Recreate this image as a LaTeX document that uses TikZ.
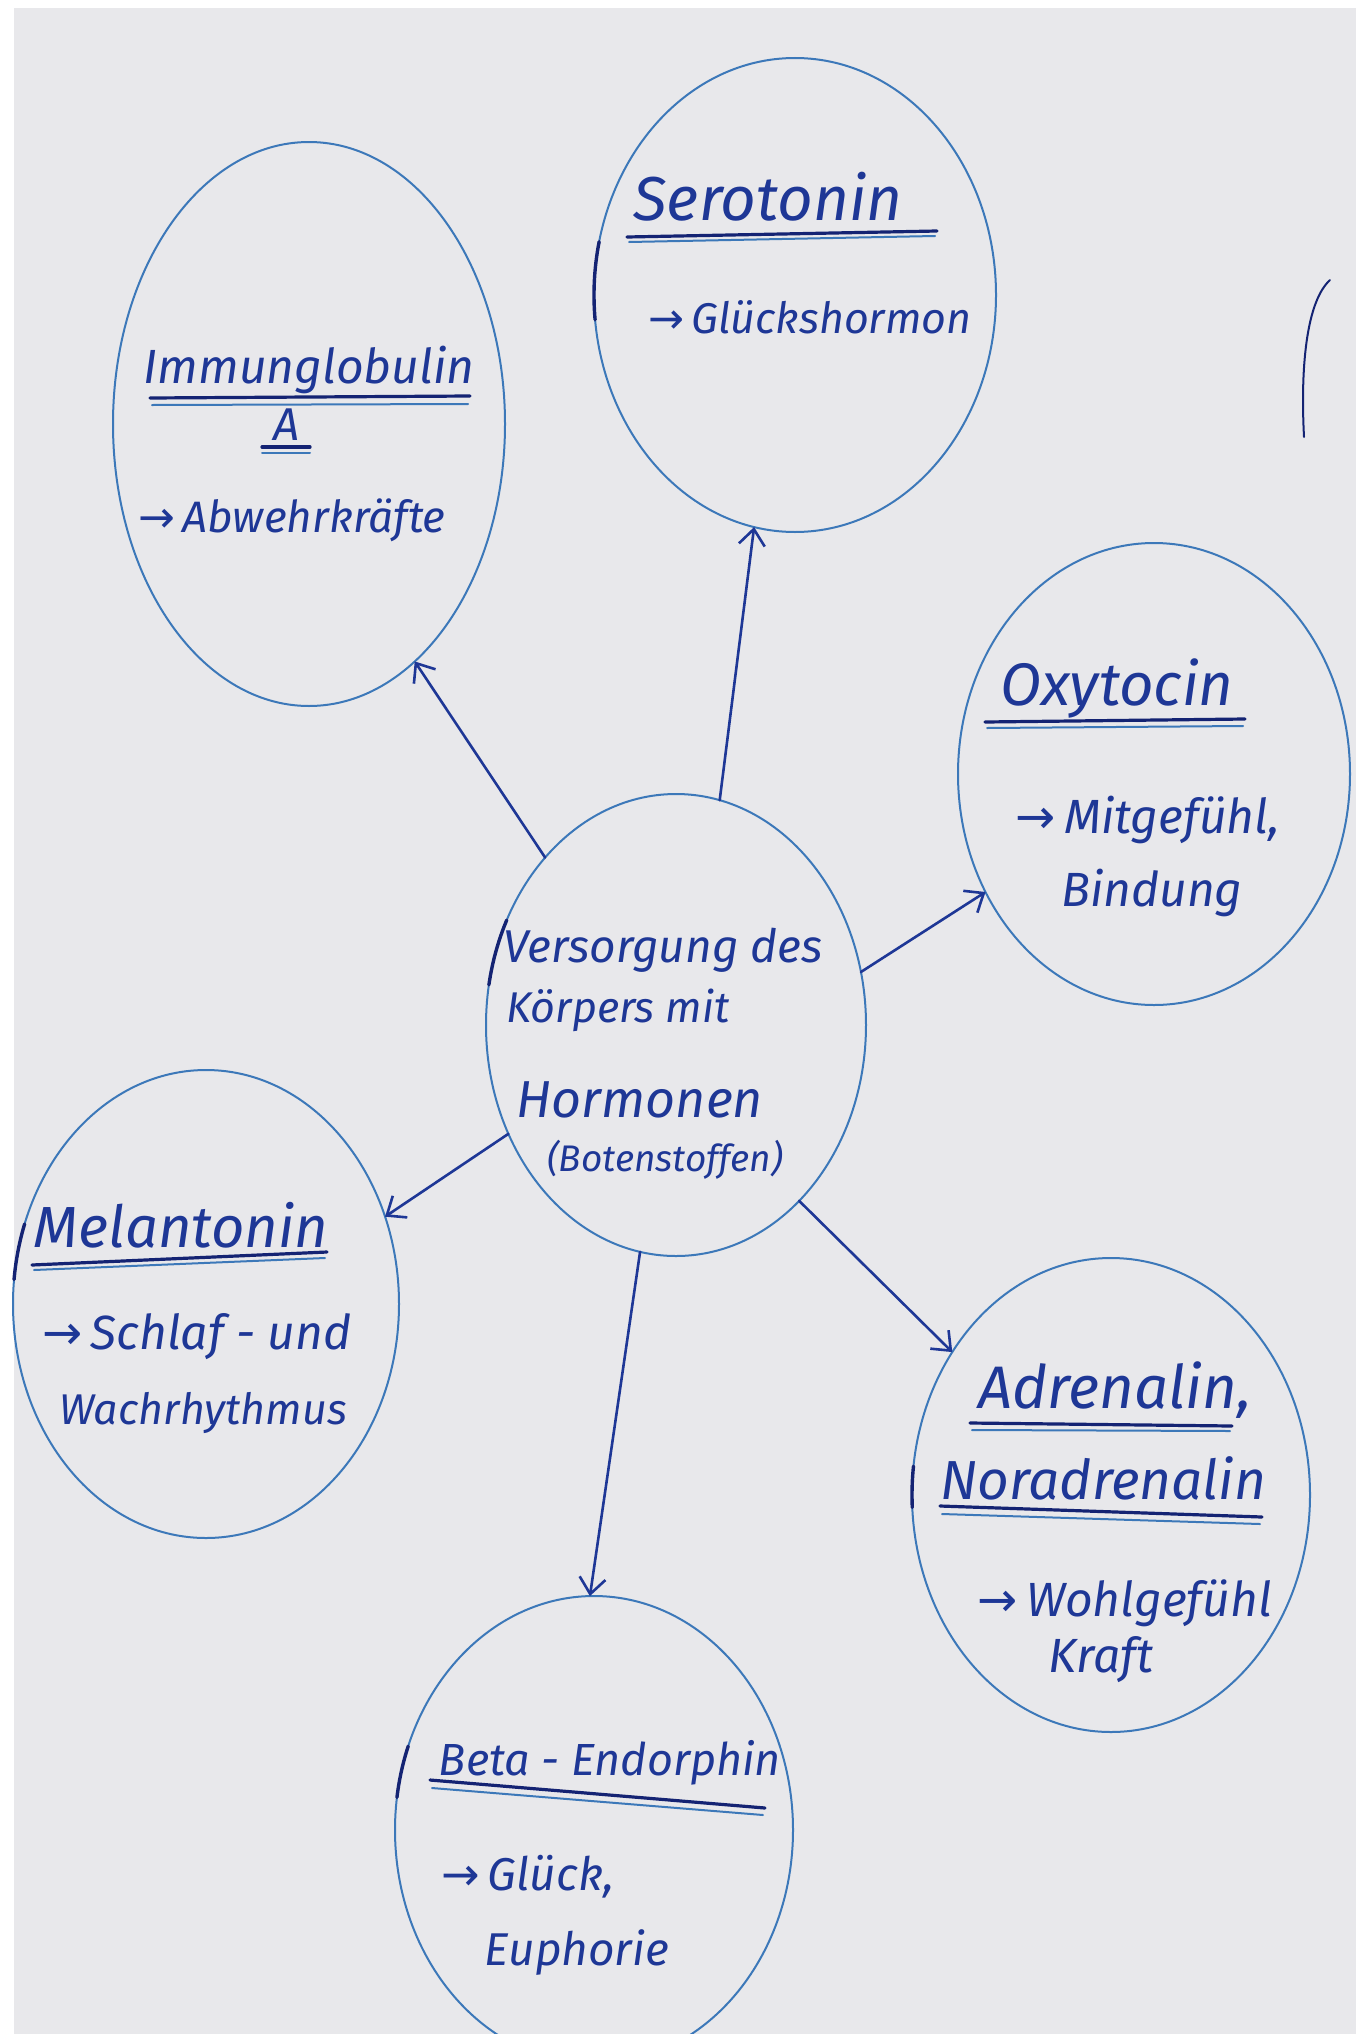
\documentclass[tikz,border=0pt]{standalone}
\usepackage{fontspec}
\setmainfont{Fira Sans}
\newfontfamily\arrowfont{DejaVu Sans}
\usetikzlibrary{shapes.geometric,arrows.meta}
\definecolor{paper}{RGB}{232,232,235}
\definecolor{ink}{RGB}{30,55,150}
\definecolor{inkdark}{RGB}{20,35,115}
\definecolor{rim}{RGB}{60,120,185}
\newcommand\myfs[1]{\fontsize{#1}{#1}\selectfont\itshape}
\newcommand\rarr{{\arrowfont\upshape →}\,}
\begin{document}
\begin{tikzpicture}[x=1pt,y=-1pt,
  bubble/.style={ellipse, draw=rim, line width=2pt, inner sep=0pt, outer sep=0pt},
  link/.style={draw=ink, line width=2.6pt, line cap=round,
    -{Straight Barb[length=16pt,width=26pt]}},
  txt/.style={text=ink, inner sep=0pt, anchor=center},
  uline/.style={draw=inkdark, line width=3.2pt, line cap=round},
  uline2/.style={draw=rim, line width=2pt, line cap=round},
  rimmark/.style={draw=inkdark, line width=3.4pt, line cap=round}
]
\useasboundingbox (0,0) rectangle (1356,2034);
\fill[white] (0,0) rectangle (1356,2034);
\fill[paper] (14,8) rectangle (1356,2034);

% bubbles
\node[bubble, minimum width=392pt, minimum height=564pt] (imm) at (309,424) {};
\node[bubble, minimum width=402pt, minimum height=474pt] (sero) at (795,295) {};
\node[bubble, minimum width=392pt, minimum height=462pt] (oxy) at (1154,774) {};
\node[bubble, minimum width=380pt, minimum height=462pt] (c) at (676,1025) {};
\node[bubble, minimum width=386pt, minimum height=468pt] (mel) at (206,1304) {};
\node[bubble, minimum width=398pt, minimum height=474pt] (adr) at (1111,1495) {};
\node[bubble, minimum width=398pt, minimum height=468pt] (beta) at (594,1830) {};

% dark overdrawn strokes on the rims
\draw[rimmark] (795,295) ++(174:201 and 237) arc[start angle=174, end angle=193, x radius=201, y radius=237];
\draw[rimmark] (676,1025) ++(190:190 and 231) arc[start angle=190, end angle=207, x radius=190, y radius=231];
\draw[rimmark] (206,1304) ++(186:193 and 234) arc[start angle=186, end angle=200, x radius=193, y radius=234];
\draw[rimmark] (1111,1495) ++(177:199 and 237) arc[start angle=177, end angle=187, x radius=199, y radius=237];
\draw[rimmark] (594,1830) ++(188:199 and 234) arc[start angle=188, end angle=201, x radius=199, y radius=234];

% stray pen stroke
\draw[inkdark, line width=2pt, line cap=round] (1304,437) .. controls (1300,360) and (1308,300) .. (1330,280);

% connectors
\draw[link] (c.128.7) -- (imm.-66.9);
\draw[link] (c.79.5) -- (sero.260.4);
\draw[link] (c.16.9) -- (oxy.215.3);
\draw[link] (c.213.8) -- (mel.26.3);
\draw[link] (c.261.9) -- (beta.91);
\draw[link] (c.305.3) -- (adr.138.6);

% Immunglobulin A
\node[txt, font=\myfs{48}] (immt) at (309,370) {Immunglobulin};
\draw[uline] (150,398) -- (470,396);
\draw[uline2] (152,405) -- (468,404);
\node[txt, font=\myfs{46}] (imma) at (287,425) {A};
\draw[uline] (262,447) -- (310,447);
\draw[uline2] (262,453) -- (310,453);
\node[txt, font=\myfs{44}] (immb) at (292,520) {\rarr Abwehrkräfte};

% Serotonin
\node[txt, font=\myfs{62}] (serot) at (768,197) {Serotonin};
\draw[uline] (627,237) -- (937,231);
\draw[uline2] (629,242) -- (935,236);
\node[txt, font=\myfs{43}] (serob) at (810,317) {\rarr Glückshormon};

% Oxytocin
\node[txt, font=\myfs{60}] (oxyt) at (1117,688) {Oxytocin};
\draw[uline] (985,722) -- (1245,719);
\draw[uline2] (987,728) -- (1243,726);
\node[txt, font=\myfs{48}] (oxyb1) at (1148,820) {\rarr Mitgefühl,};
\node[txt, font=\myfs{48}] (oxyb2) at (1152,893) {Bindung};

% center
\node[txt, font=\myfs{46}] (c1) at (663,950) {Versorgung des};
\node[txt, font=\myfs{43}] (c2) at (618,1010) {Körpers mit};
\node[txt, font=\myfs{52}] (c3) at (640,1100) {Hormonen};
\node[txt, font=\myfs{37}] (c4) at (665,1160) {(Botenstoffen)};

% Melantonin
\node[txt, font=\myfs{58}] (melt) at (181,1225) {Melantonin};
\draw[uline] (32,1265) -- (327,1252);
\draw[uline2] (34,1270) -- (325,1258);
\node[txt, font=\myfs{48}] (melb1) at (197,1337) {\rarr Schlaf - und};
\node[txt, font=\myfs{43}] (melb2) at (203,1413) {Wachrhythmus};

% Adrenalin, Noradrenalin
\node[txt, font=\myfs{60}] (adrt1) at (1115,1390) {Adrenalin,};
\draw[uline] (970,1423) -- (1232,1426);
\draw[uline2] (972,1430) -- (1230,1431);
\node[txt, font=\myfs{55}] (adrt2) at (1103,1478) {Noradrenalin};
\draw[uline] (940,1506) -- (1262,1517);
\draw[uline2] (942,1514) -- (1260,1524);
\node[txt, font=\myfs{48}] (adrb1) at (1125,1603) {\rarr Wohlgefühl};
\node[txt, font=\myfs{48}] (adrb2) at (1101,1660) {Kraft};

% Beta-Endorphin
\node[txt, font=\myfs{45}] (betat) at (610,1763) {Beta - Endorphin};
\draw[uline] (430,1780) -- (765,1808);
\draw[uline2] (432,1788) -- (763,1815);
\node[txt, font=\myfs{46}] (betab1) at (528,1877) {\rarr Glück,};
\node[txt, font=\myfs{46}] (betab2) at (577,1953) {Euphorie};
\end{tikzpicture}
\end{document}
